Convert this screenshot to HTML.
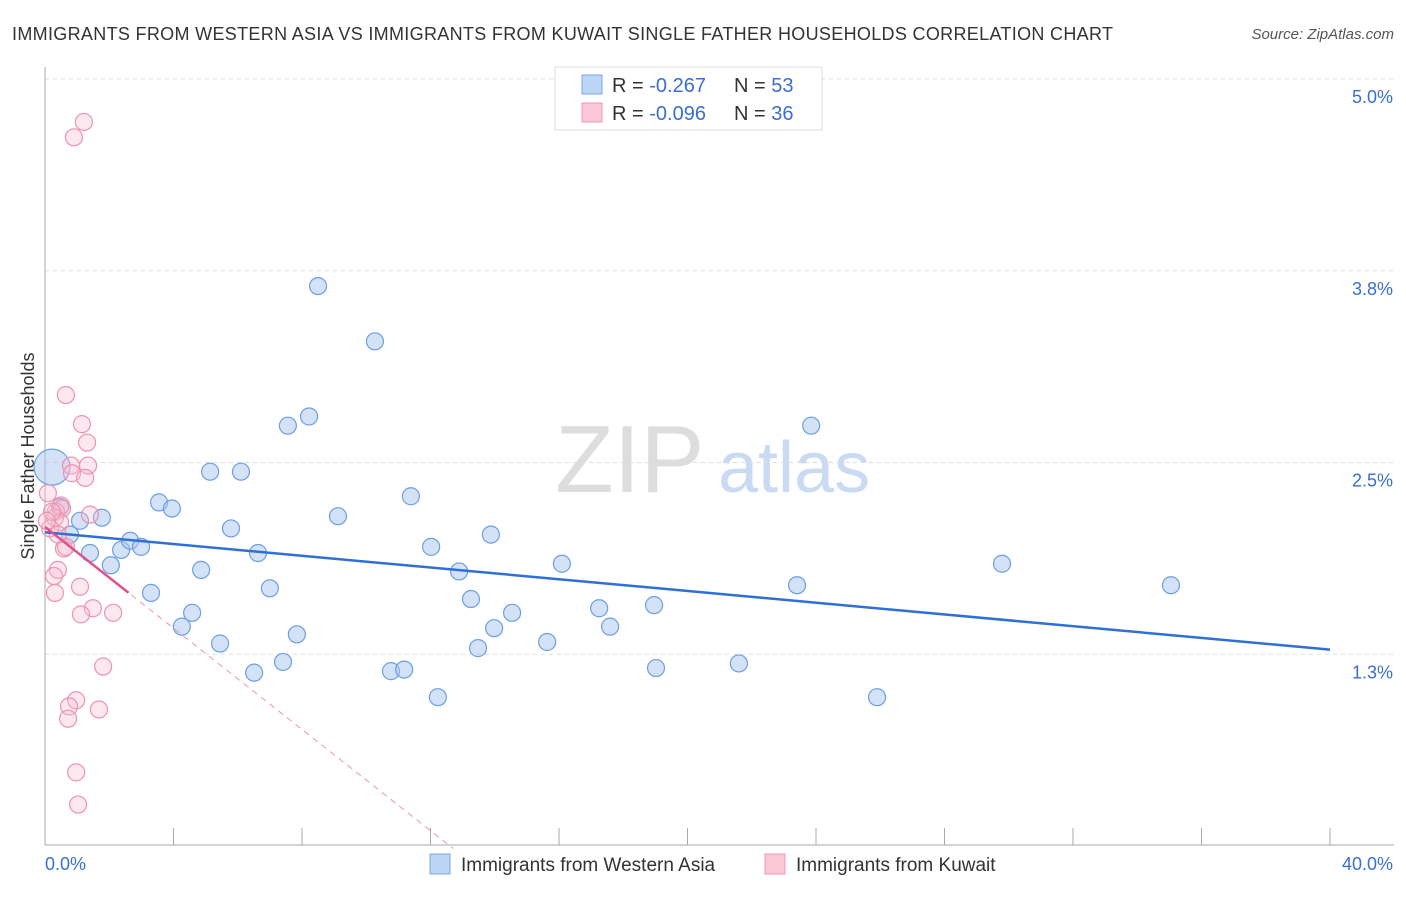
<!DOCTYPE html>
<html><head><meta charset="utf-8"><style>
body{margin:0;background:#fff;font-family:"Liberation Sans",sans-serif}
svg text{font-family:"Liberation Sans",sans-serif}
</style></head><body>
<svg id="chart" width="1406" height="892">
<text x="12" y="40" font-size="18" fill="#333" textLength="1101">IMMIGRANTS FROM WESTERN ASIA VS IMMIGRANTS FROM KUWAIT SINGLE FATHER HOUSEHOLDS CORRELATION CHART</text>
<text x="1394" y="39" font-size="15" fill="#555" font-style="italic" text-anchor="end">Source: ZipAtlas.com</text>
<text x="555" y="492" font-size="96" fill="#ddd" font-family="Liberation Serif">ZIP</text>
<text x="718" y="492" font-size="72" fill="#c9daf2">atlas</text>
<g id="grid"></g>
<g id="axes"></g>
<text transform="translate(34,456) rotate(-90)" font-size="18" fill="#333" text-anchor="middle">Single Father Households</text>
<g id="marks"></g>
<g>
<rect x="555" y="67" width="267" height="63" fill="#fff" stroke="#ddd"/>
<rect x="582" y="75" width="20" height="19" fill="#bcd5f5" stroke="#7aa7e6"/>
<rect x="582" y="103" width="20" height="19" fill="#fcc8d8" stroke="#f094b2"/>
<text x="612" y="92" font-size="20" fill="#333">R = <tspan fill="#3a6fd0">-0.267</tspan></text>
<text x="734" y="92" font-size="20" fill="#333">N = <tspan fill="#3a6fd0">53</tspan></text>
<text x="612" y="120" font-size="20" fill="#333">R = <tspan fill="#3a6fd0">-0.096</tspan></text>
<text x="734" y="120" font-size="20" fill="#333">N = <tspan fill="#3a6fd0">36</tspan></text>
</g>
<g>
<rect x="430" y="854" width="20" height="20" fill="#bcd5f5" stroke="#7aa7e6"/>
<text x="461" y="871" font-size="19" fill="#333">Immigrants from Western Asia</text>
<rect x="765" y="854" width="20" height="20" fill="#fcc8d8" stroke="#f094b2"/>
<text x="796" y="871" font-size="19" fill="#333">Immigrants from Kuwait</text>
</g>
</svg>
<script>
const yTicks=[1.25,2.5,3.75,5.0];
const yTickLabels=["1.3%","2.5%","3.8%","5.0%"];
const xTicks=[0,4,8,12,16,20,24,28,32,36,40];
const blueX=[0.22,0.47,1.09,0.78,1.77,1.40,2.05,2.37,2.65,2.99,3.30,3.55,3.95,4.26,4.58,4.86,5.14,5.45,5.79,6.10,6.51,6.63,7.00,7.41,7.56,7.84,8.22,8.50,9.12,10.27,10.77,11.18,11.39,12.02,12.23,12.89,13.26,13.48,13.88,13.98,14.54,15.63,16.09,17.25,17.59,18.96,19.02,21.60,23.41,23.85,25.90,29.79,35.05];
const blueY=[2.47,2.21,2.12,2.03,2.14,1.91,1.83,1.93,1.99,1.95,1.65,2.24,2.20,1.43,1.52,1.80,2.44,1.32,2.07,2.44,1.13,1.91,1.68,1.20,2.74,1.38,2.80,3.65,2.15,3.29,1.14,1.15,2.28,1.95,0.97,1.79,1.61,1.29,2.03,1.42,1.52,1.33,1.84,1.55,1.43,1.57,1.16,1.19,1.70,2.74,0.97,1.84,1.70];
const pinkX=[0.90,1.21,0.65,1.15,1.31,0.81,1.34,0.84,1.25,0.09,0.50,0.34,0.53,1.40,0.31,0.47,0.16,0.59,0.65,0.40,0.28,1.09,1.49,0.31,1.12,2.12,1.81,0.97,1.68,0.75,0.72,0.97,1.03,0.22,0.40,0.06];
const pinkY=[4.62,4.72,2.94,2.75,2.63,2.48,2.48,2.43,2.40,2.30,2.22,2.18,2.20,2.16,2.14,2.11,2.07,1.94,1.95,1.80,1.76,1.69,1.55,1.65,1.51,1.52,1.17,0.95,0.89,0.91,0.83,0.48,0.27,2.18,2.03,2.12];
const blueTrend=[2.045,1.28];
const pinkTrend=[2.08,-0.165];
const NS="http://www.w3.org/2000/svg";
const X=v=>45+v/40*1285;
const Y=v=>79+(5-v)*153.4;
function mk(tag,attrs,parent){const e=document.createElementNS(NS,tag);for(const k in attrs)e.setAttribute(k,attrs[k]);parent.appendChild(e);return e;}
const grid=document.getElementById('grid'),axes=document.getElementById('axes'),marks=document.getElementById('marks');
yTicks.forEach((t,i)=>{
 const l=mk('line',{x1:45,x2:1394,y1:Y(t),y2:Y(t),stroke:'#ddd','stroke-dasharray':'4,4'},grid);
 
 
 const tx=mk('text',{x:1393,y:Y(t)+24,'font-size':18,fill:'#3a6fd0','text-anchor':'end'},axes);
 tx.textContent=yTickLabels[i];
 
 
});
const ax=mk('line',{x1:45,x2:45,y1:67,y2:845,stroke:'#aaa'},axes);


const bx=mk('line',{x1:45,x2:1394,y1:845,y2:845,stroke:'#aaa'},axes);


xTicks.forEach(t=>{
 const l=mk('line',{x1:X(t),x2:X(t),y1:828,y2:845,stroke:'#aaa'},axes);
 
 
});
[[0,'0.0%','start',45],[40,'40.0%','end',1393]].forEach(a=>{
 const tx=mk('text',{x:a[3],y:870,'font-size':18,fill:'#3a6fd0','text-anchor':a[2]},axes);
 tx.textContent=a[1];
 
 
});
blueX.forEach((x,i)=>{
 const c=mk('circle',{cx:X(x),cy:Y(blueY[i]),r:i===0?18:8.5,fill:'rgba(168,198,240,0.5)',stroke:'#6c9fe2','stroke-width':1.2},marks);
 
 
});
pinkX.forEach((x,i)=>{
 const c=mk('circle',{cx:X(x),cy:Y(pinkY[i]),r:8.5,fill:'rgba(248,190,208,0.35)',stroke:'#ec93b0','stroke-width':1.2},marks);
 
 
});
const bl=mk('line',{x1:X(0),y1:Y(blueTrend[0]),x2:X(40),y2:Y(blueTrend[1]),stroke:'#2f6fd6','stroke-width':2.5},marks);


const pEnd=-pinkTrend[0]/pinkTrend[1]+0.1;
const pd=mk('line',{x1:X(0),y1:Y(pinkTrend[0]),x2:X(pEnd),y2:Y(pinkTrend[0]+pinkTrend[1]*pEnd),stroke:'#ec93b0','stroke-width':1,'stroke-dasharray':'6,5'},marks);


const ps=mk('line',{x1:X(0),y1:Y(pinkTrend[0]),x2:X(2.6),y2:Y(pinkTrend[0]+pinkTrend[1]*2.6),stroke:'#e0508a','stroke-width':2.5},marks);


</script>
</body></html>
